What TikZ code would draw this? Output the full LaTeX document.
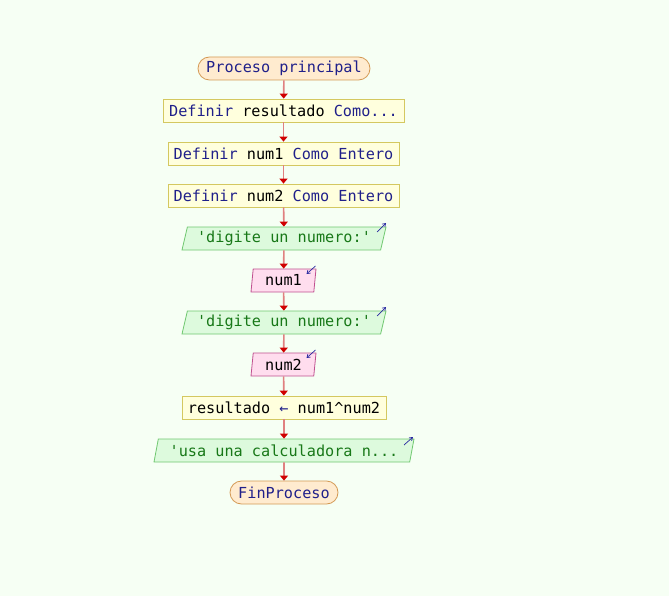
\documentclass[tikz,border=0pt]{standalone}
\usepackage{fontspec}
\newfontfamily\pseintfont{DejaVu Sans Mono}
\usetikzlibrary{shapes.geometric,arrows.meta,calc}

\definecolor{fondo}{HTML}{F6FFF4}
\definecolor{procfill}{HTML}{FFEBCF}
\definecolor{procdraw}{HTML}{D49A55}
\definecolor{deffill}{HTML}{FFFFDD}
\definecolor{defdraw}{HTML}{D4C860}
\definecolor{salfill}{HTML}{DDFADD}
\definecolor{saldraw}{HTML}{70C870}
\definecolor{saltext}{HTML}{187818}
\definecolor{entfill}{HTML}{FFDDEE}
\definecolor{entdraw}{HTML}{C05090}
\definecolor{clave}{HTML}{20208A}
\definecolor{linea}{HTML}{E08080}
\definecolor{punta}{HTML}{D00000}
\definecolor{icono}{HTML}{2828A0}

\tikzset{
  base node/.style={font=\pseintfont\fontsize{15.2}{18}\selectfont, minimum height=23pt, inner sep=0pt, line width=0.8pt},
  proc node/.style={base node, rectangle, rounded corners=11.5pt, fill=procfill, draw=procdraw, text=clave},
  def node/.style={base node, rectangle, fill=deffill, draw=defdraw},
  sal node/.style={base node, trapezium, trapezium left angle=70, trapezium right angle=110, trapezium stretches body, fill=salfill, draw=saldraw, text=saltext},
  ent node/.style={base node, trapezium, trapezium left angle=79, trapezium right angle=101, trapezium stretches body, fill=entfill, draw=entdraw},
  flecha/.style={draw=linea, line width=1.6pt, -{Triangle[length=5pt,width=8pt,color=punta]}},
  icon/.style={draw=icono, line width=0.7pt, -{Straight Barb[length=3pt,width=4pt]}}
}
\newcommand{\kw}[1]{\textcolor{clave}{#1}}

\begin{document}
\begin{tikzpicture}[x=1pt, y=-1pt]
\path[fill=fondo, use as bounding box] (0,0) rectangle (669,596);

\node [proc node, minimum width=172pt] (inicio) at (284,68.5) {Proceso principal};
\node [def node, minimum width=241pt] (def1) at (283.5,110.5) {\kw{Definir} resultado \kw{Como...}};
\node [def node, minimum width=231pt] (def2) at (283.5,153.5) {\kw{Definir} num1 \kw{Como Entero}};
\node [def node, minimum width=231pt] (def3) at (283.5,195.5) {\kw{Definir} num2 \kw{Como Entero}};
\node [sal node, minimum width=204pt] (sal1) at (284,238.5) {\textquotesingle digite un numero:\textquotesingle};
\node [ent node, minimum width=65pt] (ent1) at (283.5,280.5) {num1};
\node [sal node, minimum width=204pt] (sal2) at (284,322.5) {\textquotesingle digite un numero:\textquotesingle};
\node [ent node, minimum width=65pt] (ent2) at (283.5,364.5) {num2};
\node [def node, minimum width=204pt] (asig) at (284,407.5) {resultado \kw{←} num1\textasciicircum num2};
\node [sal node, minimum width=260pt] (sal3) at (284,450.5) {\textquotesingle usa una calculadora n...};
\node [proc node, minimum width=108pt] (fin) at (284,492.5) {FinProceso};

% conectores
\draw [flecha] (inicio) -- (def1);
\draw [flecha] (def1) -- (def2);
\draw [flecha] (def2) -- (def3);
\draw [flecha] (def3) -- (sal1);
\draw [flecha] (sal1) -- (ent1);
\draw [flecha] (ent1) -- (sal2);
\draw [flecha] (sal2) -- (ent2);
\draw [flecha] (ent2) -- (asig);
\draw [flecha] (asig) -- (sal3);
\draw [flecha] (sal3) -- (fin);

% iconos de entrada/salida
\draw [icon] ($(sal1.center)+(93,-6.5)$) -- ++(9,-9);
\draw [icon] ($(sal2.center)+(93,-6.5)$) -- ++(9,-9);
\draw [icon] ($(sal3.center)+(120,-5.5)$) -- ++(9,-8);
\draw [icon] ($(ent1.center)+(32,-14.5)$) -- ++(-9,8);
\draw [icon] ($(ent2.center)+(32,-14.5)$) -- ++(-9,8);
\end{tikzpicture}
\end{document}
